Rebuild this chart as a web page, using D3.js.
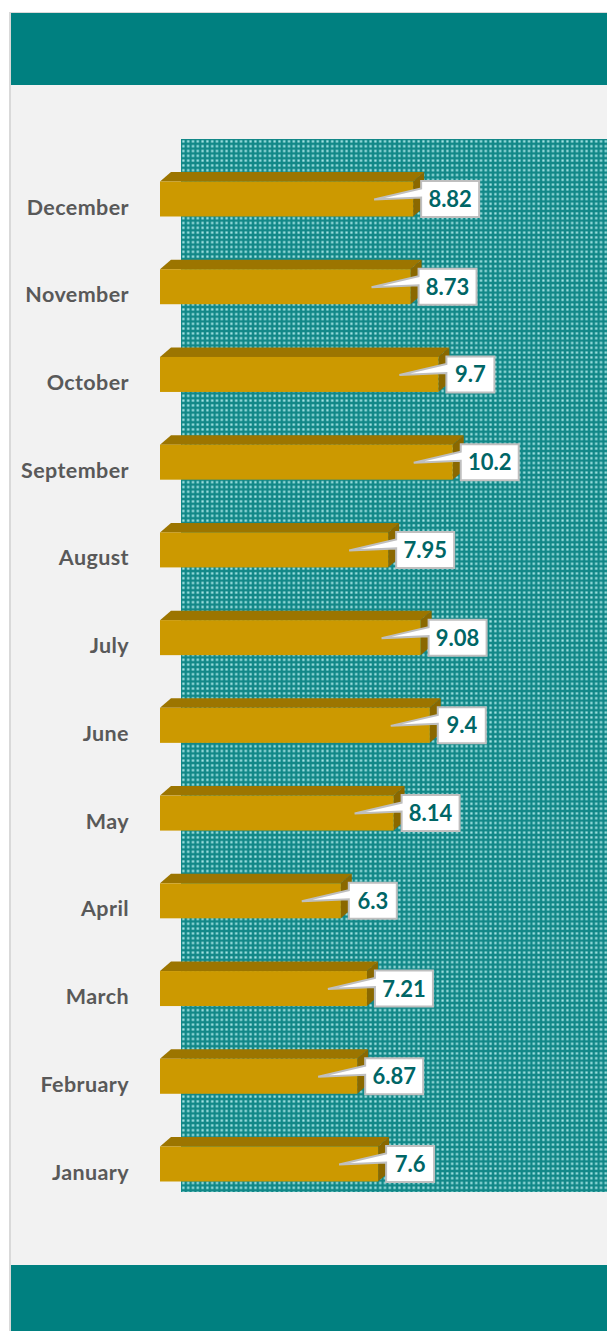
<!DOCTYPE html>
<html>
<head>
<meta charset="utf-8">
<script src="https://d3js.org/d3.v7.min.js"></script>
<style>
  html, body { margin: 0; padding: 0; background: #fff; }
  svg { display: block; }
  text { font-family: Lato, "Open Sans", sans-serif; font-weight: 700; }
</style>
</head>
<body>
<svg id="chart" width="607" height="1331"></svg>
<script>
// Chart data, top to bottom as in the picture
var months = ["December", "November", "October", "September", "August", "July", "June", "May", "April", "March", "February", "January"];
var values = [8.82, 8.73, 9.7, 10.2, 7.95, 9.08, 9.4, 8.14, 6.3, 7.21, 6.87, 7.6];
var valueLabels = ["8.82", "8.73", "9.7", "10.2", "7.95", "9.08", "9.4", "8.14", "6.3", "7.21", "6.87", "7.6"];

var svg = d3.select("#chart");

// Frame and the two teal bands
svg.append("rect").attr("x", 9).attr("y", 12).attr("width", 598).attr("height", 1319).attr("fill", "#d9d9d9");
svg.append("rect").attr("x", 11).attr("y", 13).attr("width", 596).attr("height", 1318).attr("fill", "#f2f2f2");
svg.append("rect").attr("x", 11).attr("y", 13).attr("width", 596).attr("height", 72).attr("fill", "#008080");
svg.append("rect").attr("x", 11).attr("y", 1265).attr("width", 596).attr("height", 66).attr("fill", "#008080");

// Dotted plot background
var pattern = svg.append("defs").append("pattern")
  .attr("id", "dots").attr("patternUnits", "userSpaceOnUse")
  .attr("x", 181).attr("y", 139).attr("width", 4.8).attr("height", 4.8);
pattern.append("rect").attr("width", 4.8).attr("height", 4.8).attr("fill", "#128888");
pattern.append("rect").attr("x", 1.3).attr("y", 1.3).attr("width", 2.2).attr("height", 2.2).attr("fill", "#ace9e9");

svg.append("rect").attr("x", 181).attr("y", 139).attr("width", 426).attr("height", 1053).attr("fill", "url(#dots)");

// Scales
var x = d3.scaleLinear().domain([0, 10]).range([160, 447]);
var y = d3.scalePoint().domain(months).range([181.5, 1146.5]);

var barH = 35, depthX = 11, depthY = 9.5;

// Category labels
svg.append("g").selectAll("text").data(months).join("text")
  .attr("x", 129).attr("y", function(d) { return y(d) + 33; })
  .attr("text-anchor", "end").attr("font-size", 21.5).attr("letter-spacing", 0.4).attr("fill", "#595959")
  .text(function(d) { return d; });

var rows = svg.append("g").selectAll("g").data(values).join("g");

// Top face
rows.append("path").attr("fill", "#9c7500").attr("d", function(d, i) {
  var t = y(months[i]), e = x(d);
  return d3.line()([[x(0), t], [x(0) + depthX, t - depthY], [e + depthX, t - depthY], [e, t]]) + "Z";
});
// Side face
rows.append("path").attr("fill", "#8a6800").attr("d", function(d, i) {
  var t = y(months[i]), e = x(d);
  return d3.line()([[e, t], [e + depthX, t - depthY], [e + depthX, t + barH - depthY], [e, t + barH]]) + "Z";
});
// Front face
rows.append("rect").attr("fill", "#cc9900")
  .attr("x", x(0)).attr("y", function(d, i) { return y(months[i]); })
  .attr("width", function(d) { return x(d) - x(0); }).attr("height", barH);

// Box width follows the length of the label
function boxWidth(i) {
  return valueLabels[i].length === 3 ? 48 : 58;
}

// Callouts with the pointer running back over the bar
rows.append("path").attr("fill", "#fff").attr("stroke", "#bfbfbf").attr("stroke-width", 2)
  .attr("stroke-linejoin", "miter")
  .attr("d", function(d, i) {
    var t = y(months[i]), e = x(d);
    var l = e + 8, w = boxWidth(i);
    return d3.line()([[l, t - 0.5], [l + w, t - 0.5], [l + w, t + 35.5], [l, t + 35.5], [l, t + 16], [e - 39, t + 18], [l, t + 7]]) + "Z";
  });

rows.append("text")
  .attr("x", function(d, i) { return x(d) + 8 + boxWidth(i) / 2; })
  .attr("y", function(d, i) { return y(months[i]) + 25.5; })
  .attr("text-anchor", "middle").attr("font-size", 22).attr("fill", "#006666")
  .text(function(d, i) { return valueLabels[i]; });
</script>
</body>
</html>
